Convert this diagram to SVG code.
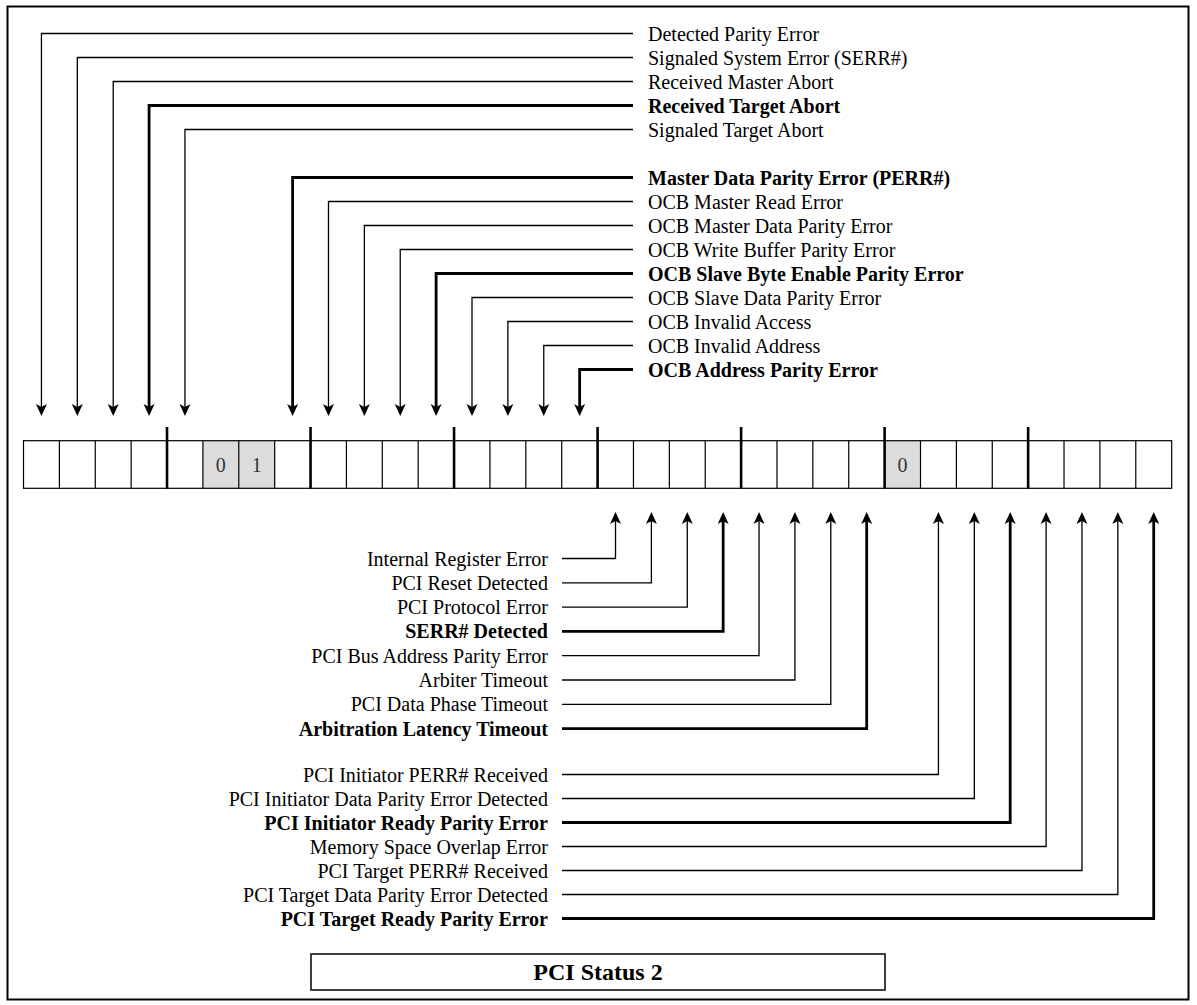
<svg xmlns="http://www.w3.org/2000/svg" width="1197" height="1005" viewBox="0 0 1197 1005">
<style>
text{font-family:"Liberation Serif","Times New Roman",serif;font-size:20px;fill:#000}
.b{font-weight:bold}
.r{text-anchor:end}
.c{fill:none;stroke:#000;stroke-width:1.3;stroke-linejoin:miter}
.k{stroke-width:2.8}
.cell{fill:none;stroke:#000;stroke-width:1.2}
.div{stroke:#000;stroke-width:2.6}
.sh{fill:#dcdcdc;stroke:none}
.dig{text-anchor:middle;fill:#333}
</style>
<defs>
<marker id="ah" viewBox="0 0 12 12" refX="6" refY="6" markerWidth="12" markerHeight="12" orient="auto" markerUnits="userSpaceOnUse">
<path d="M0,0.5 L12,6 L0,11.5 L3,6 Z" fill="#000"/>
</marker>
</defs>
<rect x="7.5" y="6.5" width="1181" height="993" fill="#fff" stroke="#000" stroke-width="2"/>

<g id="register">
<rect class="sh" x="202.9" y="440.7" width="71.76" height="47.6"/>
<rect class="sh" x="884.62" y="440.7" width="35.88" height="47.6"/>
<rect class="cell" x="23.5" y="440.7" width="1148.16" height="47.6"/>
<path class="cell" d="M59.38,440.7V488.3M95.26,440.7V488.3M131.14,440.7V488.3M202.9,440.7V488.3M238.78,440.7V488.3M274.66,440.7V488.3M346.42,440.7V488.3M382.3,440.7V488.3M418.18,440.7V488.3M489.94,440.7V488.3M525.82,440.7V488.3M561.7,440.7V488.3M633.46,440.7V488.3M669.34,440.7V488.3M705.22,440.7V488.3M776.98,440.7V488.3M812.86,440.7V488.3M848.74,440.7V488.3M920.5,440.7V488.3M956.38,440.7V488.3M992.26,440.7V488.3M1064.02,440.7V488.3M1099.9,440.7V488.3M1135.78,440.7V488.3"/>
<path class="div" d="M167.02,427V488.8M310.54,427V488.8M454.06,427V488.8M597.58,427V488.8M741.1,427V488.8M884.62,427V488.8M1028.14,427V488.8"/>
<text class="dig" x="220.84" y="471.5">0</text>
<text class="dig" x="256.72" y="471.5">1</text>
<text class="dig" x="902.56" y="471.5">0</text>
</g>

<g id="connectors">
<path class="c" d="M633,33.5H41.44V410" marker-end="url(#ah)"/>
<path class="c" d="M633,57.5H77.32V410" marker-end="url(#ah)"/>
<path class="c" d="M633,81.5H113.2V410" marker-end="url(#ah)"/>
<path class="c k" d="M633,105.5H149.08V410" marker-end="url(#ah)"/>
<path class="c" d="M633,129.5H184.96V410" marker-end="url(#ah)"/>
<path class="c k" d="M633,177.5H292.6V410" marker-end="url(#ah)"/>
<path class="c" d="M633,201.5H328.48V410" marker-end="url(#ah)"/>
<path class="c" d="M633,225.5H364.36V410" marker-end="url(#ah)"/>
<path class="c" d="M633,249.5H400.24V410" marker-end="url(#ah)"/>
<path class="c k" d="M633,273.5H436.12V410" marker-end="url(#ah)"/>
<path class="c" d="M633,297.5H472V410" marker-end="url(#ah)"/>
<path class="c" d="M633,321.5H507.88V410" marker-end="url(#ah)"/>
<path class="c" d="M633,345.5H543.76V410" marker-end="url(#ah)"/>
<path class="c k" d="M633,369.5H579.64V410" marker-end="url(#ah)"/>

<path class="c" d="M562,558.5H615.52V518" marker-end="url(#ah)"/>
<path class="c" d="M562,582.8H651.4V518" marker-end="url(#ah)"/>
<path class="c" d="M562,607.1H687.28V518" marker-end="url(#ah)"/>
<path class="c k" d="M562,631.4H723.16V518" marker-end="url(#ah)"/>
<path class="c" d="M562,655.7H759.04V518" marker-end="url(#ah)"/>
<path class="c" d="M562,680H794.92V518" marker-end="url(#ah)"/>
<path class="c" d="M562,704.3H830.8V518" marker-end="url(#ah)"/>
<path class="c k" d="M562,728.6H866.68V518" marker-end="url(#ah)"/>
<path class="c" d="M562,774.5H938.44V518" marker-end="url(#ah)"/>
<path class="c" d="M562,798.5H974.32V518" marker-end="url(#ah)"/>
<path class="c k" d="M562,822.5H1010.2V518" marker-end="url(#ah)"/>
<path class="c" d="M562,846.5H1046.08V518" marker-end="url(#ah)"/>
<path class="c" d="M562,870.5H1081.96V518" marker-end="url(#ah)"/>
<path class="c" d="M562,894.5H1117.84V518" marker-end="url(#ah)"/>
<path class="c k" d="M562,918.5H1153.72V518" marker-end="url(#ah)"/>
</g>

<g id="top-labels">
<g id="t31"><text x="648" y="40.5">Detected Parity Error</text></g>
<g id="t30"><text x="648" y="64.5">Signaled System Error (SERR#)</text></g>
<g id="t29"><text x="648" y="88.5">Received Master Abort</text></g>
<g id="t28"><text class="b" x="648" y="112.5">Received Target Abort</text></g>
<g id="t27"><text x="648" y="136.5">Signaled Target Abort</text></g>
<g id="t24"><text class="b" x="648" y="184.5">Master Data Parity Error (PERR#)</text></g>
<g id="t23"><text x="648" y="208.5">OCB Master Read Error</text></g>
<g id="t22"><text x="648" y="232.5">OCB Master Data Parity Error</text></g>
<g id="t21"><text x="648" y="256.5">OCB Write Buffer Parity Error</text></g>
<g id="t20"><text class="b" x="648" y="280.5">OCB Slave Byte Enable Parity Error</text></g>
<g id="t19"><text x="648" y="304.5">OCB Slave Data Parity Error</text></g>
<g id="t18"><text x="648" y="328.5">OCB Invalid Access</text></g>
<g id="t17"><text x="648" y="352.5">OCB Invalid Address</text></g>
<g id="t16"><text class="b" x="648" y="376.5">OCB Address Parity Error</text></g>
</g>

<g id="bottom-labels">
<g id="b15"><text class="r" x="548" y="565.5">Internal Register Error</text></g>
<g id="b14"><text class="r" x="548" y="589.8">PCI Reset Detected</text></g>
<g id="b13"><text class="r" x="548" y="614.1">PCI Protocol Error</text></g>
<g id="b12"><text class="r b" x="548" y="638.4">SERR# Detected</text></g>
<g id="b11"><text class="r" x="548" y="662.7">PCI Bus Address Parity Error</text></g>
<g id="b10"><text class="r" x="548" y="687">Arbiter Timeout</text></g>
<g id="b9"><text class="r" x="548" y="711.3">PCI Data Phase Timeout</text></g>
<g id="b8"><text class="r b" x="548" y="735.6">Arbitration Latency Timeout</text></g>
<g id="b6"><text class="r" x="548" y="781.5">PCI Initiator PERR# Received</text></g>
<g id="b5"><text class="r" x="548" y="805.5">PCI Initiator Data Parity Error Detected</text></g>
<g id="b4"><text class="r b" x="548" y="829.5">PCI Initiator Ready Parity Error</text></g>
<g id="b3"><text class="r" x="548" y="853.5">Memory Space Overlap Error</text></g>
<g id="b2"><text class="r" x="548" y="877.5">PCI Target PERR# Received</text></g>
<g id="b1"><text class="r" x="548" y="901.5">PCI Target Data Parity Error Detected</text></g>
<g id="b0"><text class="r b" x="548" y="925.5">PCI Target Ready Parity Error</text></g>
</g>

<g id="title">
<rect x="311" y="954" width="574" height="36" fill="#fff" stroke="#000" stroke-width="1.5"/>
<text class="b" x="598" y="980" text-anchor="middle" style="font-size:24px">PCI Status 2</text>
</g>
</svg>
